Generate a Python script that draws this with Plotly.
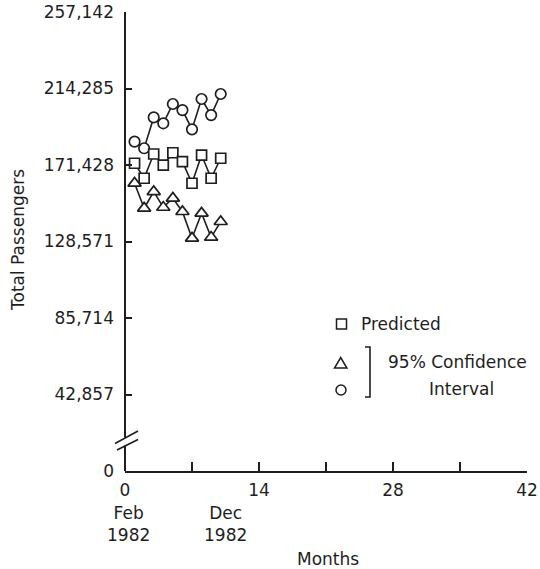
import plotly.graph_objects as go

# Monthly forecast of total passengers, Feb 1982 = month 0
months = [1, 2, 3, 4, 5, 6, 7, 8, 9, 10]
predicted = [172400, 164000, 177600, 171400, 178300, 173300, 161200, 177000, 164000, 175200]
lower_95 = [161200, 147200, 156500, 147700, 152800, 145300, 130400, 144400, 130900, 139700]
upper_95 = [184500, 180800, 198100, 194800, 205600, 202200, 191400, 208400, 199400, 211200]

y_ticks = [0, 42857, 85714, 128571, 171428, 214285, 257142]
y_tick_labels = ["0", "42,857", "85,714", "128,571", "171,428", "214,285", "257,142"]
x_ticks = [0, 7, 14, 21, 28, 35, 42]
x_tick_labels = ["0", "", "14", "", "28", "", "42"]

INK = "#1e1e1e"
FONT = "DejaVu Sans"

# plot-area geometry in pixels (used to place decorations in paper units)
L, R, T, B = 125, 13, 12, 98
W, H = 540 - L - R, 569 - T - B


def px(x):
    return (x - L) / W


def py(y):
    return (T + H - y) / H


fig = go.Figure()

series = [
    (upper_95, "circle", 10.5),
    (predicted, "square", 10),
    (lower_95, "triangle-up", 11.5),
]
for values, symbol, size in series:
    fig.add_trace(go.Scatter(
        x=months, y=values, mode="lines+markers",
        line=dict(color=INK, width=1.6),
        marker=dict(symbol=symbol, size=size, color="white",
                    line=dict(color=INK, width=1.7)),
        showlegend=False, cliponaxis=False,
    ))

shapes = []
# y axis drawn in two pieces around the break
shapes.append(dict(type="line", xref="paper", yref="paper", x0=0, x1=0,
                   y0=py(437.5), y1=1, line=dict(color=INK, width=2)))
shapes.append(dict(type="line", xref="paper", yref="paper", x0=0, x1=0,
                   y0=0, y1=py(445.5), line=dict(color=INK, width=2)))
# break marks
shapes.append(dict(type="line", xref="paper", yref="paper",
                   x0=px(115), y0=py(443.5), x1=px(138), y1=py(431),
                   line=dict(color=INK, width=1.6)))
shapes.append(dict(type="line", xref="paper", yref="paper",
                   x0=px(117), y0=py(450), x1=px(138), y1=py(439.5),
                   line=dict(color=INK, width=1.6)))

# key symbols
shapes.append(dict(type="rect", xref="paper", yref="paper",
                   x0=px(336.5), x1=px(346.5), y0=py(329), y1=py(319),
                   line=dict(color=INK, width=1.5), fillcolor="white"))
shapes.append(dict(type="path", xref="paper", yref="paper",
                   path=(f"M {px(334.5)},{py(368)} L {px(346.9)},{py(368)} "
                         f"L {px(340.7)},{py(357.5)} Z"),
                   line=dict(color=INK, width=1.5), fillcolor="white"))
shapes.append(dict(type="circle", xref="paper", yref="paper",
                   x0=px(336), x1=px(346), y0=py(395), y1=py(385),
                   line=dict(color=INK, width=1.5), fillcolor="white"))
# bracket joining the two interval symbols
shapes.append(dict(type="path", xref="paper", yref="paper",
                   path=(f"M {px(365)},{py(347)} L {px(370)},{py(347)} "
                         f"L {px(370)},{py(397)} L {px(365)},{py(397)}"),
                   line=dict(color=INK, width=1.6)))

annotations = [
    dict(text="Predicted", xref="paper", yref="paper", x=px(359), y=py(324),
         xanchor="left", yanchor="middle", showarrow=False),
    dict(text="95% Confidence", xref="paper", yref="paper", x=px(457), y=py(362),
         xanchor="center", yanchor="middle", showarrow=False),
    dict(text="Interval", xref="paper", yref="paper", x=px(461), y=py(389),
         xanchor="center", yanchor="middle", showarrow=False),
    dict(text="Feb<br>1982", xref="x", yref="paper", x=0, xshift=3, y=py(524),
         xanchor="center", yanchor="middle", showarrow=False),
    dict(text="Dec<br>1982", xref="x", yref="paper", x=10, xshift=5, y=py(524),
         xanchor="center", yanchor="middle", showarrow=False),
    dict(text="Months", xref="paper", yref="paper", x=px(328), y=py(559),
         xanchor="center", yanchor="middle", showarrow=False),
    dict(text="Total Passengers", xref="paper", yref="paper", x=px(18), y=py(240),
         xanchor="center", yanchor="middle", textangle=-90, showarrow=False),
]

fig.update_layout(
    width=540, height=569,
    margin=dict(l=L, r=R, t=T, b=B, pad=0),
    paper_bgcolor="white", plot_bgcolor="white",
    font=dict(family=FONT, size=17, color=INK),
    shapes=shapes, annotations=annotations,
    xaxis=dict(range=[0, 42], tickvals=x_ticks, ticktext=x_tick_labels,
               showline=True, linecolor=INK, linewidth=2, automargin=False,
               ticks="inside", ticklen=9, tickwidth=1.5, tickcolor=INK,
               showgrid=False, zeroline=False, ticklabelstandoff=3),
    yaxis=dict(range=[0, 257142], tickvals=y_ticks, ticktext=y_tick_labels,
               showline=False, ticks="inside", ticklen=7, tickwidth=1.5,
               tickcolor=INK, showgrid=False, zeroline=False, automargin=False,
               ticklabelstandoff=10),
)

fig.write_html("out.html")
